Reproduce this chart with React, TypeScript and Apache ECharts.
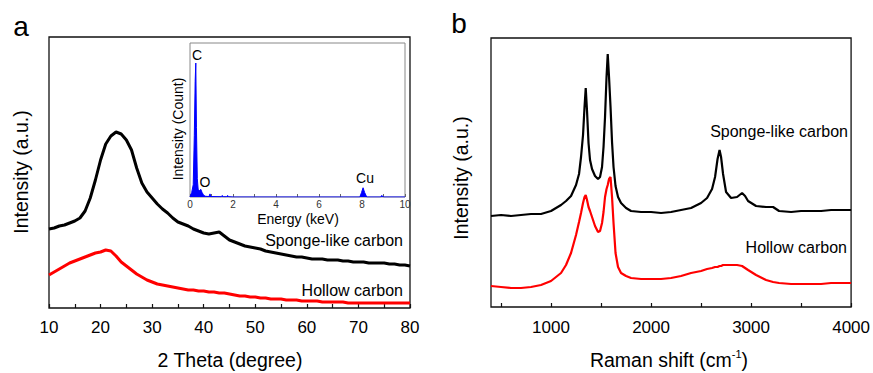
import React, { useEffect, useRef } from "react";
import * as echarts from "echarts";

// ---------- Panel a : XRD ----------
const xrdTheta = [10,11,12,13,14,15,16,17,18,19,20,21,22,23,24,25,26,27,28,29,30,31,32,33,34,35,36,37,38,39,40,41,42,43,44,45,46,47,48,49,50,51,52,53,54,55,56,57,58,59,60,61,62,63,64,65,66,67,68,69,70,71,72,73,74,75,76,77,78,79,80];
const xrdSponge = [79,80,82,83,85,87,90,97,110,128,148,164,172,176,174,168,158,140,125,116,110,104,99,95,90,86,84,82,79,77,75,74,75,76,72,68,66,64,62,61,60,59,57,56,55,54,53,52,51,51,50,49,49,49,48,48,48,47,47,46,46,46,45,45,45,45,44,44,43,43,42];
const xrdHollow = [33,36,39,42,45,47,49,51,53,55,56,58,57,52,46,42,38,34,31,28,26,24,23,22,21,20,19,18,18,17,17,16,16,15,15,14,13,12,12,11,11,10,10,9,9,9,8,8,8,7,7,7,7,6,6,6,6,6,5,5,5,5,5,5,5,5,5,5,5,5,5];
const xrdTicks = ["10","20","30","40","50","60","70","80"];

// ---------- Inset : EDS ----------
const edsEnergy = [0,0.08,0.15,0.2,0.24,0.27,0.3,0.34,0.38,0.44,0.5,0.56,0.62,0.7,0.88,0.93,0.98,1.45,1.5,1.55,1.7,1.75,1.8,2,7.9,7.98,8.05,8.12,8.22,8.85,8.93,9.0,10];
const edsCount = [0,3,8,40,75,87,45,12,5,4,5,3,1.5,0.5,0.3,2,0.3,0.2,1,0.2,0.2,1,0.2,0,0,3,6,3,0,0,1,0,0];

// ---------- Panel b : Raman ----------
const ramanShift = [400,500,600,700,800,900,1000,1100,1150,1200,1250,1280,1300,1320,1335,1347,1360,1375,1390,1410,1440,1470,1490,1510,1525,1540,1555,1567,1580,1595,1610,1625,1645,1670,1700,1750,1800,1900,2000,2100,2200,2300,2400,2500,2560,2610,2640,2665,2685,2700,2720,2750,2800,2860,2910,2940,2970,3050,3150,3220,3280,3400,3500,3600,3700,3800,3900,4000];
const ramanSponge = [91,92,91,92,93,93,96,102,106,111,122,133,150,172,200,219,196,164,147,138,131,128,130,140,160,190,230,253,230,200,165,140,121,110,104,99,96,95,95,94,95,97,99,104,109,118,130,148,157,150,133,115,109,110,114,111,106,101,100,100,96,95,96,96,96,97,97,97];
const ramanHollow = [21,20,19,19,20,22,26,34,42,54,72,85,94,104,110,112,107,100,96,90,81,75,76,84,95,110,118,122,128,130,110,84,54,40,34,31,29,28,28,28,29,31,34,36,38,39,40,40,41,41,42,42,42,42,41,39,37,32,27,25,24,23,23,23,23,24,24,24];
const ramanLabels = [1000,2000,3000,4000];
const ramanTicks = [500,1000,1500,2000,2500,3000,3500,4000];

const FONT = '"Liberation Sans", Arial, Helvetica, sans-serif';

function pairs(xs: number[], ys: number[]) {
  return xs.map((x, i) => [x, ys[i]]);
}

function txt(x: number, y: number, text: string, size: number, align = "center", extra: any = {}) {
  return {
    type: "text",
    x,
    y,
    z: 100,
    ...extra,
    style: {
      text,
      fontFamily: FONT,
      fontSize: size,
      fill: "#000",
      align,
      verticalAlign: "middle",
    },
  };
}

export default function App() {
  const ref = useRef<HTMLDivElement>(null);
  useEffect(() => {
    if (!ref.current) return;
    const chart = echarts.init(ref.current, null, { renderer: "svg" });
    const option: any = {
      animation: false,
      backgroundColor: "#fff",
      grid: [
        { left: 49, top: 37, width: 361, height: 271, show: true, borderColor: "#111", borderWidth: 1.3, backgroundColor: "transparent" },
        { left: 190, top: 43, width: 215, height: 154, show: true, borderColor: "#888", borderWidth: 1, backgroundColor: "#fff" },
        { left: 491, top: 38, width: 361, height: 269, show: true, borderColor: "#111", borderWidth: 1.3, backgroundColor: "transparent" },
      ],
      xAxis: [
        {
          gridIndex: 0, type: "value", min: 10, max: 80, interval: 10,
          axisLine: { show: false },
          axisTick: { show: true, inside: true, length: 4, lineStyle: { color: "#111", width: 1.2 } },
          minorTick: { show: true, splitNumber: 2, length: 4, lineStyle: { color: "#111", width: 1.2 } },
          splitLine: { show: false },
          axisLabel: {
            fontFamily: FONT, fontSize: 17, color: "#000", margin: 11,
            showMinLabel: true, showMaxLabel: true,
            formatter: (v: number) => (xrdTicks.includes(String(v)) ? String(v) : ""),
          },
        },
        {
          gridIndex: 1, type: "value", min: 0, max: 10, interval: 2,
          axisLine: { show: false },
          axisTick: { show: true, inside: true, length: 3, lineStyle: { color: "#666" } },
          minorTick: { show: true, splitNumber: 2, length: 3, lineStyle: { color: "#666" } },
          splitLine: { show: false },
          axisLabel: { fontFamily: FONT, fontSize: 10, color: "#333", margin: 2, showMinLabel: true, showMaxLabel: true },
        },
        {
          gridIndex: 2, type: "value", min: 400, max: 4000,
          axisLine: { show: false },
          axisTick: { show: true, inside: true, length: 4, customValues: ramanTicks, lineStyle: { color: "#111", width: 1.2 } },
          splitLine: { show: false },
          axisLabel: {
            fontFamily: FONT, fontSize: 17, color: "#000", margin: 12, customValues: ramanLabels,
            formatter: (v: number) => String(v),
          },
        },
      ],
      yAxis: [
        { gridIndex: 0, type: "value", min: 0, max: 271, show: false },
        { gridIndex: 1, type: "value", min: 0, max: 100, show: false },
        { gridIndex: 2, type: "value", min: 0, max: 269, show: false },
      ],
      series: [
        {
          type: "line", xAxisIndex: 0, yAxisIndex: 0, data: pairs(xrdTheta, xrdHollow),
          showSymbol: false, symbol: "none", lineStyle: { color: "#ff0000", width: 3 }, silent: true,
        },
        {
          type: "line", xAxisIndex: 0, yAxisIndex: 0, data: pairs(xrdTheta, xrdSponge),
          showSymbol: false, symbol: "none", lineStyle: { color: "#000", width: 3 }, silent: true,
        },
        {
          type: "line", xAxisIndex: 1, yAxisIndex: 1, data: pairs(edsEnergy, edsCount),
          showSymbol: false, symbol: "none", lineStyle: { color: "#0000ff", width: 1 },
          areaStyle: { color: "#0000ff", opacity: 1 }, silent: true, z: 5,
        },
        {
          type: "line", xAxisIndex: 2, yAxisIndex: 2, data: pairs(ramanShift, ramanHollow),
          showSymbol: false, symbol: "none", lineStyle: { color: "#ff0000", width: 2.2 }, silent: true,
        },
        {
          type: "line", xAxisIndex: 2, yAxisIndex: 2, data: pairs(ramanShift, ramanSponge),
          showSymbol: false, symbol: "none", lineStyle: { color: "#000", width: 2.2 }, silent: true,
        },
      ],
      graphic: {
        elements: [
          txt(21, 26, "a", 28),
          txt(459, 23, "b", 28),
          txt(21, 172, "Intensity (a.u.)", 19.5, "center", { rotation: Math.PI / 2 }),
          txt(461, 178, "Intensity (a.u.)", 19.5, "center", { rotation: Math.PI / 2 }),
          txt(230, 360, "2 Theta (degree)", 19.5),
          {
            type: "text", x: 669, y: 360, z: 100,
            style: {
              text: "{n|Raman shift (cm}{s|-1}{n|)}",
              align: "center", verticalAlign: "middle",
              rich: {
                n: { fontFamily: FONT, fontSize: 19.5, fill: "#000", lineHeight: 24 },
                s: { fontFamily: FONT, fontSize: 11, fill: "#000", verticalAlign: "top", lineHeight: 24, padding: [0, 0, 10, 0] },
              },
            },
          },
          txt(403, 240, "Sponge-like carbon", 16, "right"),
          txt(403, 290, "Hollow carbon", 16, "right"),
          txt(848, 131, "Sponge-like carbon", 16, "right"),
          txt(847, 247, "Hollow carbon", 16, "right"),
          txt(178, 129, "Intensity (Count)", 14, "center", { rotation: Math.PI / 2 }),
          txt(298, 219, "Energy (keV)", 14),
          txt(197, 55, "C", 14),
          txt(205, 182, "O", 14),
          txt(365, 178, "Cu", 14),
        ],
      },
    };
    chart.setOption(option);
    return () => chart.dispose();
  }, []);
  return (
    <div
      ref={ref}
      style={{ position: "absolute", left: 0, top: 0, width: 873, height: 373, background: "#fff" }}
    />
  );
}
